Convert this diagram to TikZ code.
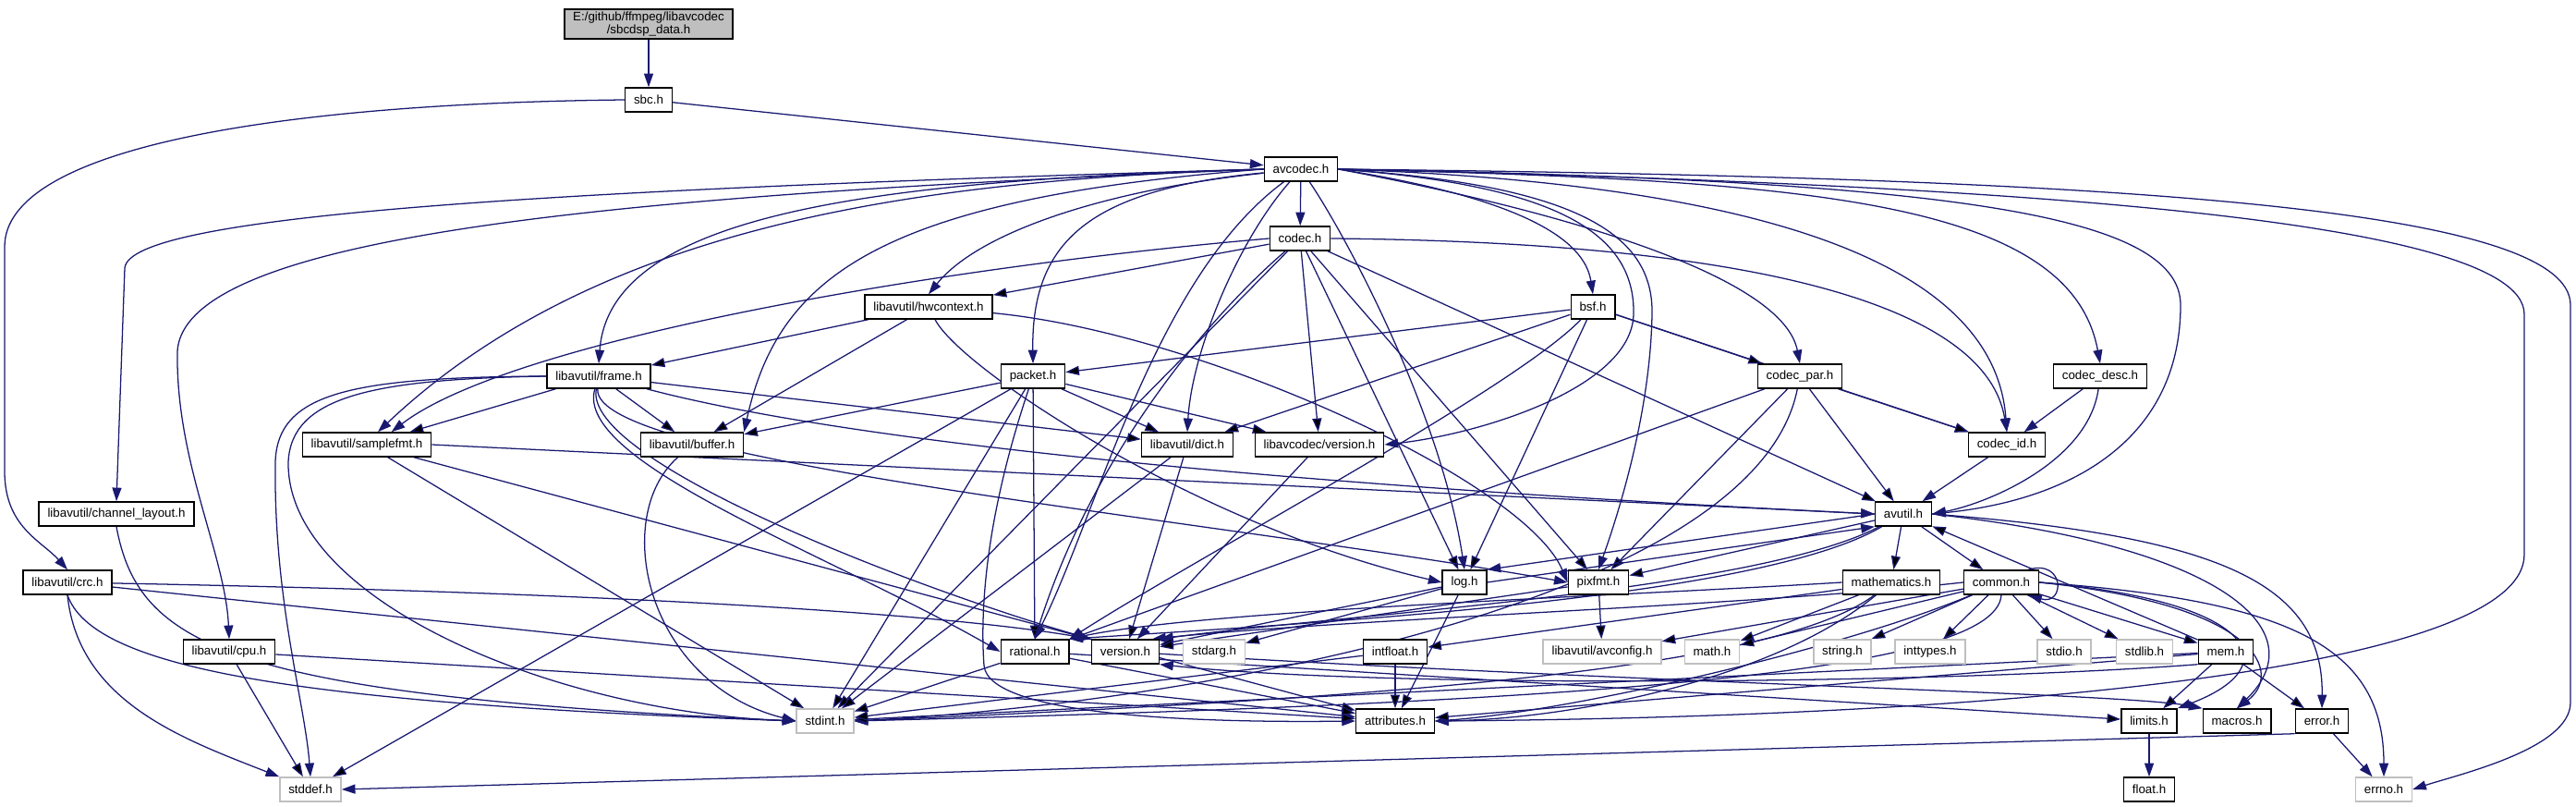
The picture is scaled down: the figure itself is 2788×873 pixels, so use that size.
\documentclass[tikz,border=0pt]{standalone}
\usepackage{fontspec}
\setmainfont{Liberation Sans}
\usepackage{xcolor}
\usepackage{tikz}
\usetikzlibrary{arrows.meta}
\usetikzlibrary{backgrounds}
\definecolor{edgeblue}{HTML}{191970}
\definecolor{sysgray}{HTML}{BFBFBF}

\begin{document}
\begin{tikzpicture}[x=0.75pt,y=-0.75pt,
  hdr/.style={rectangle,draw=black,fill=white,line width=1.1pt,minimum height=19.5pt,
    inner xsep=7pt,inner ysep=2pt,font=\fontsize{10}{11}\selectfont},
  sys/.style={hdr,draw=sysgray},
  top/.style={hdr,fill=sysgray,align=center},
  dep/.style={draw=edgeblue,line width=0.95pt,-{Triangle[length=11pt,width=7.5pt]}}]
\useasboundingbox (0,0) rectangle (2788,873);
\node[top] (sbcdsp) at (702,26) {E:/github/ffmpeg/libavcodec\\/sbcdsp\_data.h};
\node[hdr] (sbc) at (702,108) {sbc.h};
\node[hdr] (avcodec) at (1408,183) {avcodec.h};
\node[hdr] (codec) at (1407,258) {codec.h};
\node[hdr] (hwcontext) at (1005,332) {libavutil/hwcontext.h};
\node[hdr] (bsf) at (1724,332) {bsf.h};
\node[hdr] (frame) at (648,407) {libavutil/frame.h};
\node[hdr] (packet) at (1118,407) {packet.h};
\node[hdr] (codecpar) at (1948,407) {codec\_par.h};
\node[hdr] (codecdesc) at (2273,407) {codec\_desc.h};
\node[hdr] (samplefmt) at (397,481) {libavutil/samplefmt.h};
\node[hdr] (buffer) at (749,481) {libavutil/buffer.h};
\node[hdr] (dict) at (1285,481) {libavutil/dict.h};
\node[hdr] (lcversion) at (1428,481) {libavcodec/version.h};
\node[hdr] (codecid) at (2172,481) {codec\_id.h};
\node[hdr] (chlayout) at (126,556) {libavutil/channel\_layout.h};
\node[hdr] (avutil) at (2060,556) {avutil.h};
\node[hdr] (crc) at (73,630) {libavutil/crc.h};
\node[hdr] (log) at (1585,630) {log.h};
\node[hdr] (pixfmt) at (1730,630) {pixfmt.h};
\node[hdr] (mathematics) at (2047,630) {mathematics.h};
\node[hdr] (common) at (2166,630) {common.h};
\node[hdr] (cpu) at (248,705) {libavutil/cpu.h};
\node[hdr] (rational) at (1120,705) {rational.h};
\node[hdr] (version) at (1218,705) {version.h};
\node[sys] (stdarg) at (1314,705) {stdarg.h};
\node[hdr] (intfloat) at (1510,705) {intfloat.h};
\node[sys] (avconfig) at (1734,705) {libavutil/avconfig.h};
\node[sys] (math) at (1853,705) {math.h};
\node[sys] (string) at (1994,705) {string.h};
\node[sys] (inttypes) at (2089,705) {inttypes.h};
\node[sys] (stdio) at (2234,705) {stdio.h};
\node[sys] (stdlib) at (2321,705) {stdlib.h};
\node[hdr] (mem) at (2409,705) {mem.h};
\node[sys] (stdint) at (893,780) {stdint.h};
\node[hdr] (attributes) at (1510,780) {attributes.h};
\node[hdr] (limits) at (2326,780) {limits.h};
\node[hdr] (macros) at (2421,780) {macros.h};
\node[hdr] (error) at (2513,780) {error.h};
\node[sys] (stddef) at (336,854) {stddef.h};
\node[hdr] (float) at (2326,854) {float.h};
\node[sys] (errno) at (2580,854) {errno.h};

\begin{scope}[on background layer]
\draw[dep] (sbcdsp) -- (sbc);
\draw[dep] (sbc) -- (avcodec);
\draw[dep] (sbc.west) .. controls (300,112) and (5,160) .. (5,267) -- (5,510) .. controls (5,570) and (45,585) .. (crc.north);
% avcodec.h
\draw[dep] (avcodec) -- (codec);
\draw[dep] (avcodec.east) .. controls (1650,215) and (1715,260) .. (bsf.north);
\draw[dep] (avcodec.east) .. controls (1700,230) and (1930,300) .. (codecpar.north);
\draw[dep] (avcodec.west) .. controls (600,205) and (140,232) .. (135,290) -- (chlayout.north);
\draw[dep] (avcodec.west) .. controls (700,210) and (200,250) .. (192,380) .. controls (190,500) and (244,600) .. (cpu.north);
\draw[dep] (avcodec.west) .. controls (1000,195) and (650,240) .. ([xshift=9pt]samplefmt.north);
\draw[dep] (avcodec.west) .. controls (950,195) and (660,230) .. (frame.north);
\draw[dep] (avcodec.west) .. controls (950,215) and (842,300) .. (buffer.north east);
\draw[dep] (avcodec) .. controls (1200,205) and (1060,250) .. (hwcontext.north);
\draw[dep] (avcodec) .. controls (1180,205) and (1116,260) .. (packet.north);
\draw[dep] (avcodec) .. controls (1340,260) and (1290,380) .. (dict.north);
\draw[dep] (avcodec) .. controls (1250,300) and (1190,550) .. (rational.north);
\draw[dep] (avcodec) .. controls (1460,260) and (1560,450) .. (log.north);
\draw[dep] (avcodec.east) .. controls (1700,200) and (1790,250) .. (1788,340) .. controls (1786,450) and (1750,560) .. (pixfmt.north);
\draw[dep] (avcodec.east) .. controls (1680,200) and (1770,250) .. (1768,340) .. controls (1766,420) and (1600,470) .. (lcversion.east);
\draw[dep] (avcodec.east) .. controls (1950,200) and (2160,300) .. (codecid.north);
\draw[dep] (avcodec.east) .. controls (1950,195) and (2240,215) .. (codecdesc.north);
\draw[dep] (avcodec.east) .. controls (2100,195) and (2360,230) .. (2360,330) .. controls (2360,470) and (2250,540) .. (avutil.east);
\draw[dep] (avcodec.east) .. controls (2100,198) and (2732,230) .. (2732,340) -- (2732,600) .. controls (2732,720) and (2200,775) .. (attributes.east);
\draw[dep] (avcodec.east) .. controls (2300,192) and (2782,225) .. (2782,330) -- (2782,760) .. controls (2782,810) and (2660,838) .. (errno.east);
% codec.h
\draw[dep] (codec) edge (stdint) edge (avutil) edge (hwcontext) edge (log) edge (pixfmt) edge (lcversion);
\draw[dep] (codec) .. controls (1300,350) and (1180,500) .. (rational.north);
\draw[dep] (codec.west) .. controls (1000,290) and (550,370) .. ([xshift=20pt]samplefmt.north);
\draw[dep] (codec.east) .. controls (1900,262) and (2150,330) .. (codecid.north);
% libavutil/hwcontext.h
\draw[dep] (hwcontext) edge (buffer) edge (frame);
\draw[dep] (hwcontext) .. controls (1040,400) and (1300,570) .. (log.west);
\draw[dep] (hwcontext) .. controls (1300,360) and (1650,520) .. (pixfmt.west);
% bsf.h
\draw[dep] (bsf) edge (packet) edge (dict) edge (log) edge (codecid) edge (codecpar);
\draw[dep] (bsf) .. controls (1640,420) and (1300,600) .. (rational.north east);
% libavutil/frame.h
\draw[dep] (frame) edge (samplefmt) edge (buffer) edge (dict);
\draw[dep] (frame.west) .. controls (380,408) and (300,425) .. (298,500) .. controls (296,650) and (330,760) .. (stddef.north);
\draw[dep] (frame.west) .. controls (400,410) and (315,430) .. (312,500) .. controls (310,650) and (600,770) .. (stdint.west);
\draw[dep] (frame) .. controls (1000,500) and (1700,540) .. (avutil.west);
\draw[dep] (frame) .. controls (620,500) and (900,600) .. (rational.west);
\draw[dep] (frame) .. controls (640,500) and (1300,560) .. (pixfmt.west);
\draw[dep] (frame) .. controls (630,500) and (1000,640) .. (version.north west);
% packet.h
\draw[dep] (packet) edge (stddef) edge (stdint) edge (buffer) edge (dict) edge (lcversion) edge (rational);
\draw[dep] (packet) .. controls (1070,550) and (1060,650) .. (1065,720) .. controls (1070,775) and (1300,782) .. (attributes.west);
% codec_par.h, codec_desc.h
\draw[dep] (codecpar) edge (avutil) edge (pixfmt) edge (codecid) edge (rational);
\draw[dep] (codecpar) .. controls (1900,650) and (1300,760) .. (stdint.east);
\draw[dep] (codecdesc) -- (codecid);
\draw[dep] (codecdesc) .. controls (2260,500) and (2150,545) .. (avutil.east);
% libavutil headers
\draw[dep] (samplefmt) edge (stdint) edge (attributes);
\draw[dep] (samplefmt.east) -- (avutil.west);
\draw[dep] (buffer) .. controls (660,560) and (700,740) .. (stdint.west);
\draw[dep] (dict) edge (stdint) edge (version);
\draw[dep] (lcversion) -- (version);
\draw[dep] (codecid) -- (avutil);
\draw[dep] (chlayout.south) .. controls (150,700) and (250,752) .. (stdint.west);
\draw[dep] (avutil) edge (mathematics) edge (common) edge (pixfmt);
\draw[dep] (avutil.west) -- (log.north east);
\draw[dep] (log.east) -- (avutil.south west);
\draw[dep] (avutil) .. controls (1900,650) and (1400,675) .. (rational.north east);
\draw[dep] (avutil) .. controls (1900,640) and (1450,665) .. (version.north east);
\draw[dep] (avutil.east) .. controls (2400,580) and (2515,630) .. (error.north);
\draw[dep] (avutil.east) .. controls (2400,590) and (2510,680) .. (macros.north);
\draw[dep] (crc.south) .. controls (100,720) and (300,760) .. (stdint.west);
\draw[dep] (crc.south) .. controls (85,760) and (200,800) .. (stddef.north west);
\draw[dep] (crc) .. controls (600,640) and (1000,660) .. (version.north west);
\draw[dep] (crc) -- (attributes);
\draw[dep] (log) edge (stdarg) edge (attributes) edge (version);
\draw[dep] (pixfmt) edge (avconfig) edge (version);
\draw[dep] (mathematics) edge (math) edge (intfloat);
\draw[dep] (mathematics) .. controls (1920,725) and (1500,755) .. (stdint.east);
\draw[dep] (mathematics) .. controls (1920,735) and (1700,778) .. (attributes.east);
\draw[dep] (mathematics.west) .. controls (1750,645) and (1300,660) .. (rational.north east);
\draw[dep] ([xshift=-9pt]common.north east) .. controls +(40,-12) and +(40,12) .. ([xshift=-9pt]common.south east);
\draw[dep] (common) edge (string) edge (inttypes) edge (stdio) edge (stdlib) edge (mem) edge (math) edge (avconfig);
\draw[dep] (common.south) .. controls (2160,730) and (1700,760) .. (stdint.east);
\draw[dep] (common) .. controls (2000,700) and (1700,770) .. (attributes.east);
\draw[dep] (common.west) .. controls (1900,655) and (1450,670) .. ([xshift=-6pt]version.north east);
\draw[dep] (common.east) .. controls (2440,650) and (2480,720) .. (limits.north east);
\draw[dep] (common.east) .. controls (2450,655) and (2470,730) .. (macros.north);
\draw[dep] (common.east) .. controls (2480,650) and (2580,700) .. (errno.north);
\draw[dep] (mem) edge (limits) edge (error) edge (avutil) edge (stdint) edge (attributes);
\draw[dep] (mem.south west) .. controls (2100,740) and (1500,745) .. (version.south east);
\draw[dep] (rational) edge (stdint) edge (limits) edge (attributes);
\draw[dep] (intfloat) edge (stdint) edge (attributes);
\draw[dep] (version) .. controls (1800,740) and (2300,750) .. (macros.north west);
\draw[dep] (error) -- (errno);
\draw[dep] (error.south west) -- (stddef.east);
\draw[dep] (cpu) edge (stddef) edge (attributes);
\draw[dep] (limits) -- (float);
\end{scope}
\end{tikzpicture}
\end{document}
